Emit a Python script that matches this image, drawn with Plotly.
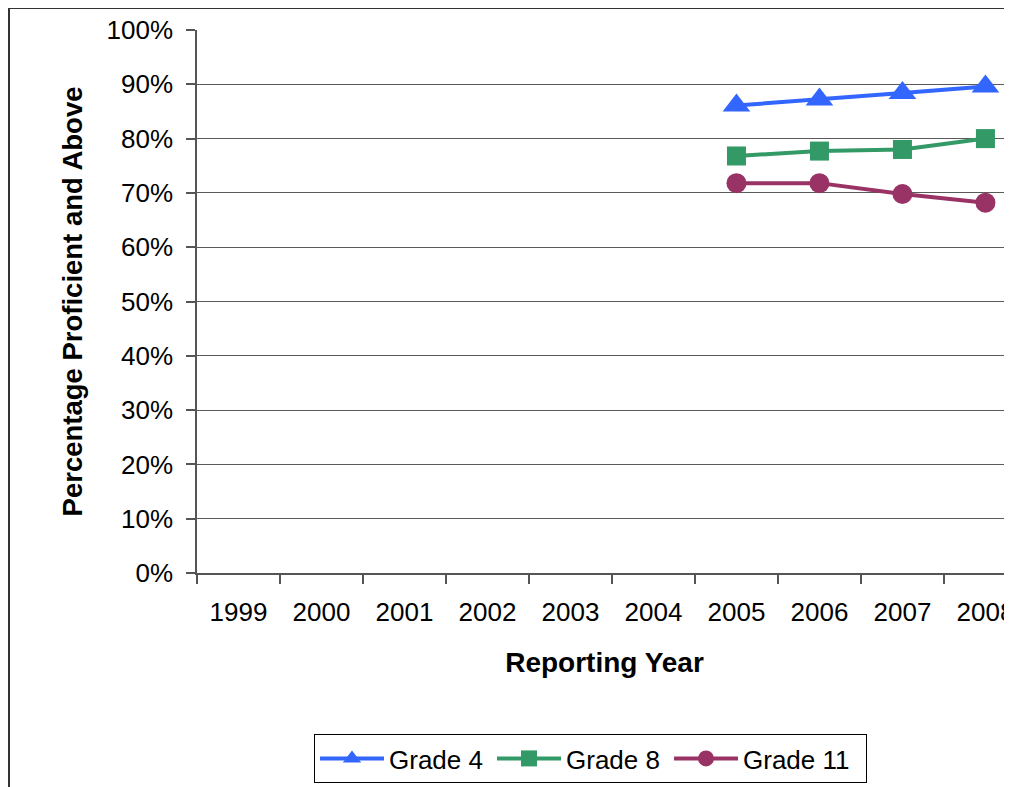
import plotly.graph_objects as go

years = ["1999", "2000", "2001", "2002", "2003", "2004", "2005", "2006", "2007", "2008"]
data_years = ["2005", "2006", "2007", "2008"]
grade4 = [0.861, 0.872, 0.884, 0.896]
grade8 = [0.768, 0.777, 0.780, 0.800]
grade11 = [0.718, 0.718, 0.698, 0.682]

series = [
    ("Grade 4", grade4, "#3366FF", "triangle-up", 24, 98),
    ("Grade 8", grade8, "#339966", "square", 19, 98),
    ("Grade 11", grade11, "#993366", "circle", 20, 118),
]

FONT = "Arial, Liberation Sans, sans-serif"

fig = go.Figure()
for name, vals, color, sym, size, lw in series:
    fig.add_trace(go.Scatter(
        x=data_years, y=vals, name=name, mode="lines+markers",
        line=dict(color=color, width=4),
        marker=dict(color=color, symbol=sym, size=size, line=dict(width=0)),
        legendwidth=lw,
    ))

# the page body has an 8px margin, so the figure is laid out 8px smaller
OFF = 8
W, H = 1012 - OFF, 787 - OFF
L, R, T = 197 - OFF, 0, 30 - OFF
PLOT_BOTTOM = 573 - OFF
B = H - PLOT_BOTTOM
pw, ph = W - L - R, H - T - B

def px_x(x):
    return (x - OFF - L) / pw

def px_y(y):
    return (PLOT_BOTTOM - (y - OFF)) / ph

fig.update_layout(
    width=W, height=H,
    margin=dict(l=L, r=R, t=T, b=B, autoexpand=False),
    paper_bgcolor="white", plot_bgcolor="white",
    font=dict(family=FONT, size=26, color="black"),
    showlegend=True,
    legend=dict(
        orientation="h", x=px_x(314), xanchor="left", y=px_y(734), yanchor="top",
        bordercolor="black", borderwidth=1, bgcolor="white",
        font=dict(size=26), itemwidth=64, tracegroupgap=0,
    ),
    xaxis=dict(
        type="category", categoryorder="array", categoryarray=years,
        range=[-0.5, 9.32], tickson="boundaries",
        ticks="outside", ticklen=9, tickcolor="#555555", tickwidth=1.5,
        showline=True, linecolor="#555555", linewidth=1.5,
        showgrid=False, zeroline=False, automargin=False,
        ticklabelstandoff=15,
        title=dict(text="<b>Reporting Year</b>", font=dict(size=28), standoff=26),
    ),
    yaxis=dict(
        range=[0, 1], dtick=0.1, tick0=0, tickformat=".0%",
        ticks="outside", ticklen=9, tickcolor="#555555", tickwidth=1.5,
        showline=True, linecolor="#555555", linewidth=1.5,
        showgrid=True, gridcolor="#5a5a5a", gridwidth=1,
        zeroline=False, automargin=False,
        ticklabelstandoff=8,
        title=dict(text="<b>Percentage Proficient and Above</b>", font=dict(size=27.5), standoff=16),
    ),
    shapes=[dict(
        type="rect", xref="paper", yref="paper",
        x0=px_x(9), x1=px_x(1100), y0=px_y(900), y1=px_y(8),
        line=dict(color="#333333", width=2), fillcolor="rgba(0,0,0,0)", layer="below",
    )],
)

fig.write_html("out.html")
